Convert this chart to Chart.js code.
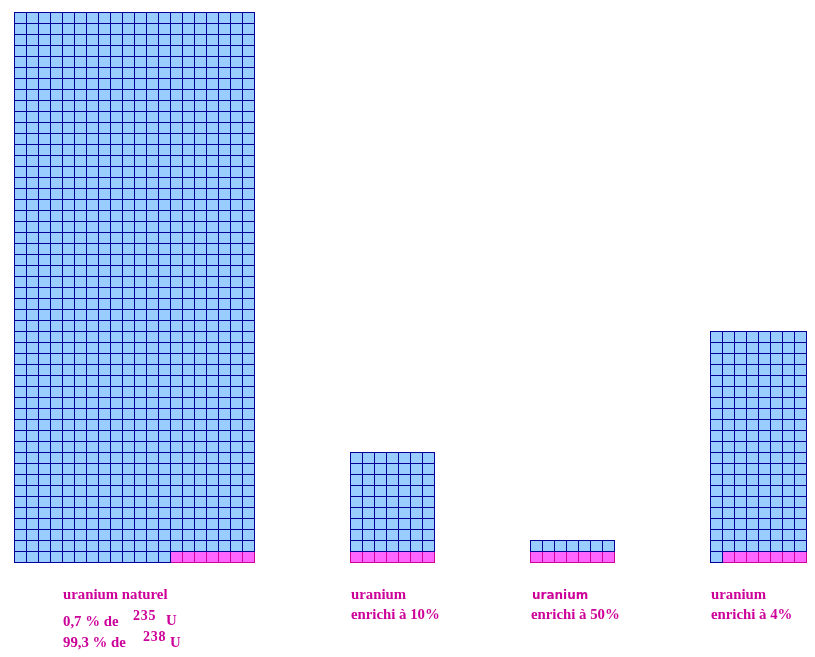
<!DOCTYPE html>
<html lang="fr">
<head>
<meta charset="utf-8">
<script src="https://cdn.jsdelivr.net/npm/chart.js@4/dist/chart.umd.min.js"></script>
<style>
  body { margin: 0; background: #fff; }
  #wrap { position: relative; width: 815px; height: 657px; }
  #wrap canvas { position: absolute; left: 0; top: 0; }
  .lbl {
    position: absolute;
    white-space: nowrap;
    color: #cc0099;
    font: bold 14.8px "Liberation Serif", "Times New Roman", serif;
    line-height: 14px;
  }
  .sup { font-size: 14px; letter-spacing: 0.8px; }
  .sans { font: bold 12px "DejaVu Sans", Verdana, sans-serif; }
</style>
</head>
<body>
<div id="wrap">
  <canvas id="gridChart" width="815" height="657"></canvas>

  <div class="lbl" style="left:63px; top:587px;">uranium naturel</div>
  <div class="lbl" style="left:63px; top:614px;">0,7 % de</div>
  <div class="lbl sup" style="left:133px; top:609px;">235</div>
  <div class="lbl" style="left:166px; top:613px;">U</div>
  <div class="lbl" style="left:63px; top:635px;">99,3 % de</div>
  <div class="lbl sup" style="left:143px; top:630px;">238</div>
  <div class="lbl" style="left:170px; top:635px;">U</div>

  <div class="lbl" style="left:351px; top:587px;">uranium</div>
  <div class="lbl" style="left:351px; top:607px;">enrichi à 10%</div>

  <div class="lbl sans" style="left:532px; top:588px;">uranium</div>
  <div class="lbl" style="left:531px; top:607px;">enrichi à 50%</div>

  <div class="lbl" style="left:711px; top:587px;">uranium</div>
  <div class="lbl" style="left:711px; top:607px;">enrichi à 4%</div>
</div>

<script>
// one block per sample, each cell = one unit of uranium
const blockNames = ["uranium naturel", "uranium enrichi à 10%", "uranium enrichi à 50%", "uranium enrichi à 4%"];
const blockColumns = [20, 7, 7, 8];
const blockRows = [50, 10, 2, 21];
const u235Cells = [7, 7, 7, 7];

const GAP = 8; // empty columns between blocks

function makeCell(fill, stroke) {
  const c = document.createElement("canvas");
  c.width = 13;
  c.height = 12;
  const ctx = c.getContext("2d");
  ctx.fillStyle = fill;
  ctx.fillRect(0, 0, 13, 12);
  ctx.strokeStyle = stroke;
  ctx.lineWidth = 1;
  ctx.strokeRect(0.5, 0.5, 12, 11);
  return c;
}

function buildCells() {
  const u238 = [];
  const u235 = [];
  let start = 0;

  blockNames.forEach((_, b) => {
    const cols = blockColumns[b];
    for (let r = 0; r < blockRows[b]; r++) {
      for (let c = 0; c < cols; c++) {
        const pt = { x: start + c + 0.5, y: r + 0.5 };
        // U-235 cells sit at the right end of the bottom row
        if (r === 0 && c >= cols - u235Cells[b]) u235.push(pt);
        else u238.push(pt);
      }
    }
    start += cols + GAP;
  });

  return { u238, u235, width: start - GAP };
}

const cells = buildCells();
const maxRows = Math.max(...blockRows);

new Chart(document.getElementById("gridChart"), {
  type: "scatter",
  data: {
    datasets: [
      {
        label: "238U",
        data: cells.u238,
        pointStyle: makeCell("#99ccff", "#000099"),
        pointRadius: 6,
        clip: false,
      },
      {
        label: "235U",
        data: cells.u235,
        pointStyle: makeCell("#ff66ff", "#cc0099"),
        pointRadius: 6,
        clip: false,
      },
    ],
  },
  options: {
    responsive: false,
    animation: false,
    events: [],
    layout: { padding: { left: 14, right: 9, top: 12, bottom: 94 } },
    plugins: {
      legend: { display: false },
      tooltip: { enabled: false },
    },
    scales: {
      x: {
        type: "linear",
        display: false,
        min: -1 / 24,
        max: cells.width - 1 / 24,
      },
      y: {
        type: "linear",
        display: false,
        min: -0.5 / 11,
        max: maxRows + 0.09 - 0.5 / 11,
      },
    },
  },
});
</script>
</body>
</html>
